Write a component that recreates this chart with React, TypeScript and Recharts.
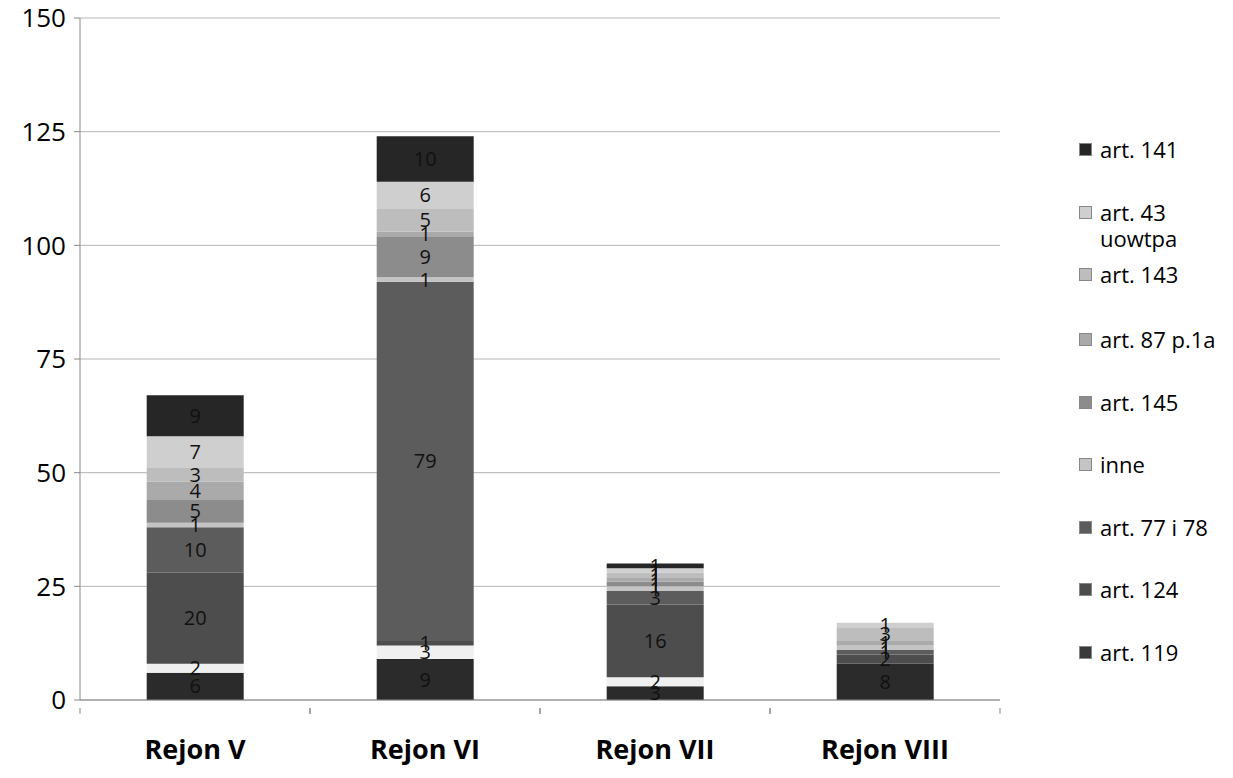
import { BarChart, Bar, XAxis, YAxis, CartesianGrid, LabelList } from "recharts";

const categories = ["Rejon V", "Rejon VI", "Rejon VII", "Rejon VIII"];
const yTicks = [0, 25, 50, 75, 100, 125, 150];

// bottom series (its legend entry is cut off in the original)
const other = [6, 9, 3, 8];
const art119 = [2, 3, 2, 0];
const art124 = [20, 1, 16, 2];
const art7778 = [10, 79, 3, 1];
const inne = [1, 1, 1, 1];
const art145 = [5, 9, 1, 0];
const art87 = [4, 1, 1, 1];
const art143 = [3, 5, 1, 3];
const art43 = [7, 6, 1, 1];
const art141 = [9, 10, 1, 0];

const SERIES = [
  { key: "other", name: "", values: other, color: "#2b2b2b" },
  { key: "a119", name: "art. 119", values: art119, color: "#f0f0f0" },
  { key: "a124", name: "art. 124", values: art124, color: "#4d4d4d" },
  { key: "a7778", name: "art. 77 i 78", values: art7778, color: "#5c5c5c" },
  { key: "inne", name: "inne", values: inne, color: "#c4c4c4" },
  { key: "a145", name: "art. 145", values: art145, color: "#8c8c8c" },
  { key: "a87", name: "art. 87 p.1a", values: art87, color: "#aaaaaa" },
  { key: "a143", name: "art. 143", values: art143, color: "#bdbdbd" },
  { key: "a43", name: "art. 43 uowtpa", values: art43, color: "#cfcfcf" },
  { key: "a141", name: "art. 141", values: art141, color: "#262626" },
];

const data = categories.map((c, i) => {
  const row: Record<string, string | number> = { name: c };
  SERIES.forEach(s => { row[s.key] = s.values[i]; });
  return row;
});

const FONT = "'Open Sans', 'Noto Sans', sans-serif";
const BAND = 230; // width of one category on the x axis, for the boundary tick marks

function CatTick({ x, y, payload }: { x?: number; y?: number; payload?: { value: string } }) {
  const cx = x ?? 0;
  const cy = y ?? 0;
  return (
    <g>
      <line x1={cx - BAND / 2} x2={cx - BAND / 2} y1={cy} y2={cy + 6} stroke="#888" />
      <line x1={cx + BAND / 2} x2={cx + BAND / 2} y1={cy} y2={cy + 6} stroke="#888" />
      <text x={cx} y={cy + 51} textAnchor="middle" fontSize={27} fontWeight={700} fill="#000" fontFamily={FONT}>
        {payload?.value}
      </text>
    </g>
  );
}

// legend positions follow the original (top to bottom)
const LEGEND_ROWS = [
  { name: "art. 141", color: "#262626", top: 150 },
  { name: "art. 43", extra: "uowtpa", color: "#cfcfcf", top: 213 },
  { name: "art. 143", color: "#bdbdbd", top: 275 },
  { name: "art. 87 p.1a", color: "#aaaaaa", top: 340 },
  { name: "art. 145", color: "#8c8c8c", top: 403 },
  { name: "inne", color: "#c4c4c4", top: 465 },
  { name: "art. 77 i 78", color: "#5c5c5c", top: 528 },
  { name: "art. 124", color: "#4d4d4d", top: 590 },
  { name: "art. 119", color: "#3a3a3a", top: 653 },
];

export default function App() {
  return (
    <div style={{ position: "relative", width: 1233, height: 778, marginLeft: -8, marginTop: -8, background: "#fff", fontFamily: FONT }}>
      <BarChart width={1233} height={778} data={data} margin={{ top: 18, right: 233, bottom: 18, left: 8 }} barCategoryGap="29%">
        <CartesianGrid vertical={false} stroke="#b5b5b5" />
        <XAxis dataKey="name" height={60} tick={<CatTick />} tickLine={false} axisLine={{ stroke: "#888" }} />
        <YAxis
          width={72}
          domain={[0, 150]}
          ticks={yTicks}
          interval={0}
          tick={{ fontSize: 26, fill: "#000", fontFamily: FONT }}
          tickLine={{ stroke: "#888" }}
          tickSize={6}
          tickMargin={8}
          axisLine={{ stroke: "#888" }}
        />
        {SERIES.map(s => (
          <Bar key={s.key} dataKey={s.key} name={s.name} stackId="a" fill={s.color} isAnimationActive={false} legendType="none">
            <LabelList
              dataKey={s.key}
              position="center"
              fontSize={20}
              fill="#111"
              fontFamily={FONT}
              formatter={(v: unknown) => (Number(v) > 0 ? String(v) : "")}
            />
          </Bar>
        ))}
      </BarChart>
      {LEGEND_ROWS.map(r => (
        <div key={r.name} style={{ position: "absolute", left: 1079, top: r.top - 14, fontSize: 22, lineHeight: "26px", color: "#000" }}>
          <div style={{ display: "flex", alignItems: "center" }}>
            <div style={{ width: 11, height: 11, background: r.color, marginRight: 8, border: "1px solid #888" }} />
            <span>{r.name}</span>
          </div>
          {r.extra && <div style={{ paddingLeft: 21 }}>{r.extra}</div>}
        </div>
      ))}
    </div>
  );
}
